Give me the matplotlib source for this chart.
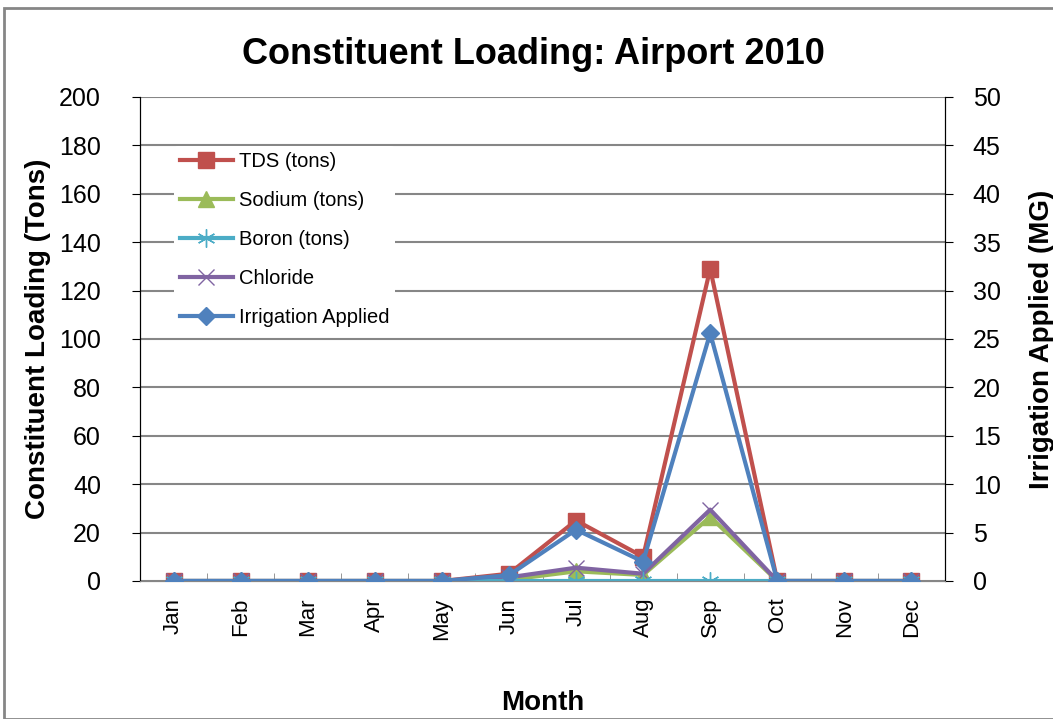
import numpy as np
import matplotlib.pyplot as plt
from matplotlib.patches import Rectangle

plt.rcParams['font.family'] = ['Liberation Sans', 'DejaVu Sans']

months = ['Jan', 'Feb', 'Mar', 'Apr', 'May', 'Jun', 'Jul', 'Aug', 'Sep', 'Oct', 'Nov', 'Dec']
tds = [0, 0, 0, 0, 0, 3, 25, 10, 129, 0, 0, 0]
sodium = [0, 0, 0, 0, 0, 0.5, 4, 2.5, 26.5, 0, 0, 0]
boron = [0, 0, 0, 0, 0, 0, 0, 0, 0, 0, 0, 0]
chloride = [0, 0, 0, 0, 0, 1.5, 5.5, 3, 29.5, 0, 0, 0]
irrigation = [0, 0, 0, 0, 0, 0.6, 5.3, 2, 25.6, 0, 0, 0]

x = np.arange(len(months))

fig = plt.figure(figsize=(10.53, 7.19), dpi=100)
ax = fig.add_axes([140/1053, 1 - 581/719, 805/1053, 484/719])
ax2 = ax.twinx()

ax.plot(x, tds, color='#C0504D', lw=3, marker='s', ms=12, label='TDS (tons)', zorder=3)
ax.plot(x, sodium, color='#9BBB59', lw=3, marker='^', ms=12, label='Sodium (tons)', zorder=3)
ax.plot(x, boron, color='#4BACC6', lw=3, marker=(6, 2, 0), ms=13, mew=1, label='Boron (tons)', zorder=4)
ax.plot(x, chloride, color='#8064A2', lw=3, marker='x', ms=11, mew=1, label='Chloride', zorder=3)
ax2.plot(x, irrigation, color='#4F81BD', lw=3, marker='D', ms=9, label='Irrigation Applied', zorder=5)

ax.set_xlim(-0.5, 11.5)
ax.set_ylim(0, 200)
ax2.set_ylim(0, 50)
ax.set_yticks(np.arange(0, 201, 20))
ax2.set_yticks(np.arange(0, 51, 5))
ax.yaxis.grid(True, color='#868686', lw=1.5)
ax.set_axisbelow(True)

ax.set_xticks(x)
ax.set_xticklabels(months, rotation=90, fontsize=16)
ax.set_xticks(np.arange(-0.5, 12, 1), minor=True)
ax.tick_params(axis='x', which='major', length=0, pad=12)
ax.tick_params(axis='x', which='minor', length=6, direction='in', color='#868686')
ax.tick_params(axis='y', length=6, direction='out', labelsize=18, pad=22)
ax2.tick_params(axis='y', length=6, direction='out', labelsize=18, pad=14)

for a in (ax, ax2):
    a.spines['top'].set_visible(False)
    a.spines['left'].set_color('black')
    a.spines['right'].set_color('black')
    a.spines['bottom'].set_color('#868686')

ax.set_ylabel('Constituent Loading (Tons)', fontsize=20, fontweight='bold', labelpad=6)
ax2.set_ylabel('Irrigation Applied (MG)', fontsize=20, fontweight='bold', labelpad=20)
ax.set_xlabel('Month', fontsize=20, fontweight='bold', labelpad=36)
fig.text(533/1053, 1 - 55/719, 'Constituent Loading: Airport 2010', ha='center', va='center',
         fontsize=26, fontweight='bold')

h1, l1 = ax.get_legend_handles_labels()
h2, l2 = ax2.get_legend_handles_labels()
leg = ax2.legend(h1 + h2, l1 + l2, loc='upper left', bbox_to_anchor=(0.03, 0.92),
                 frameon=True, fontsize=14.5, labelspacing=1.0, handlelength=2.6,
                 handletextpad=0.3, borderpad=0.3)
leg.get_frame().set_edgecolor('none')
leg.get_frame().set_facecolor('white')
leg.get_frame().set_alpha(1)

fig.patches.append(Rectangle((4/1053, 0), 1.1, 1 - 8/719, transform=fig.transFigure,
                             fill=False, edgecolor='#868686', lw=2))

plt.savefig('out.png', dpi=100)
